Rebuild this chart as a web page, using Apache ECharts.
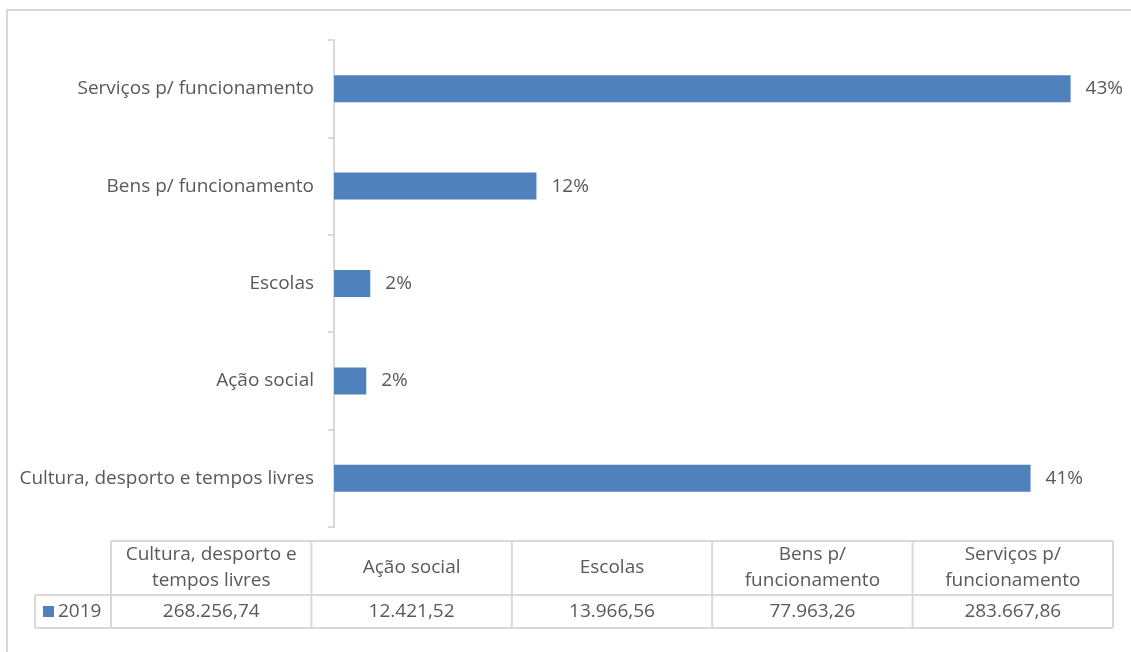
<!DOCTYPE html>
<html>
<head>
<meta charset="utf-8">
<script src="https://cdn.jsdelivr.net/npm/echarts@6/dist/echarts.min.js"></script>
<style>
html,body{margin:0;padding:0;background:#fff;}
#chart{width:1131px;height:652px;}
</style>
</head>
<body>
<div id="chart"></div>
<script>
// Data
var categories = ['Cultura, desporto e tempos livres', 'Ação social', 'Escolas', 'Bens p/ funcionamento', 'Serviços p/ funcionamento'];
var tableHeaders = ['Cultura, desporto e\ntempos livres', 'Ação social', 'Escolas', 'Bens p/\nfuncionamento', 'Serviços p/\nfuncionamento'];
var seriesName = '2019';
var values2019 = [268256.74, 12421.52, 13966.56, 77963.26, 283667.86];

var total = values2019.reduce(function (a, b) { return a + b; }, 0);
function fmtPT(v) {
  var parts = v.toFixed(2).split('.');
  return parts[0].replace(/\B(?=(\d{3})+(?!\d))/g, '.') + ',' + parts[1];
}

var FONT = 'Open Sans';
var FS = 19;
var TXT = '#595959';
var LINE = '#d9d9d9';
var BAR = '#4f81bd';

// table geometry
var tLeft = 111, tRight = 1113, legLeft = 35;
var hTop = 541, hMid = 595, hBot = 628;
var colW = (tRight - tLeft) / categories.length;

var g = [];
g.push({type: 'rect', shape: {x: 7, y: 10, width: 1200, height: 700}, style: {fill: 'none', stroke: LINE, lineWidth: 2}, silent: true});
function line(x1, y1, x2, y2) {
  g.push({type: 'line', shape: {x1: x1, y1: y1, x2: x2, y2: y2}, style: {stroke: LINE, lineWidth: 2}, silent: true});
}
line(tLeft, hTop, tRight, hTop);
line(legLeft, hMid, tRight, hMid);
line(legLeft, hBot, tRight, hBot);
line(legLeft, hMid, legLeft, hBot);
for (var i = 0; i <= categories.length; i++) {
  line(tLeft + i * colW, hTop, tLeft + i * colW, hBot);
}
var font = FS + 'px "' + FONT + '"';
for (var j = 0; j < categories.length; j++) {
  var cx = tLeft + (j + 0.5) * colW;
  g.push({type: 'text', x: cx, y: (hTop + hMid) / 2, style: {text: tableHeaders[j], fill: TXT, font: font, align: 'center', verticalAlign: 'middle', lineHeight: 26}, silent: true});
  g.push({type: 'text', x: cx, y: (hMid + hBot) / 2, style: {text: fmtPT(values2019[j]), fill: TXT, font: font, align: 'center', verticalAlign: 'middle'}, silent: true});
}
g.push({type: 'rect', shape: {x: 43, y: 606, width: 11, height: 11}, style: {fill: BAR}, silent: true});
g.push({type: 'text', x: 58, y: (hMid + hBot) / 2, style: {text: seriesName, fill: TXT, font: font, align: 'left', verticalAlign: 'middle'}, silent: true});

var chart = echarts.init(document.getElementById('chart'));
chart.setOption({
  animation: false,
  backgroundColor: '#fff',
  textStyle: {fontFamily: FONT},
  grid: {left: 334, top: 40, width: 779, height: 487, containLabel: false},
  xAxis: {type: 'value', min: 0, max: 300000, show: false, splitLine: {show: false}},
  yAxis: {
    type: 'category', data: categories,
    axisLine: {lineStyle: {color: LINE, width: 2}},
    axisTick: {show: true, length: 6, lineStyle: {color: LINE, width: 2}},
    axisLabel: {color: TXT, fontSize: FS, margin: 20, fontFamily: FONT}
  },
  series: [{
    name: seriesName, type: 'bar', data: values2019, barWidth: 27,
    itemStyle: {color: BAR},
    label: {show: true, position: 'right', distance: 15, color: TXT, fontSize: FS, fontFamily: FONT,
      formatter: function (p) { return Math.round(p.value / total * 100) + '%'; }}
  }],
  graphic: g
});
</script>
</body>
</html>
